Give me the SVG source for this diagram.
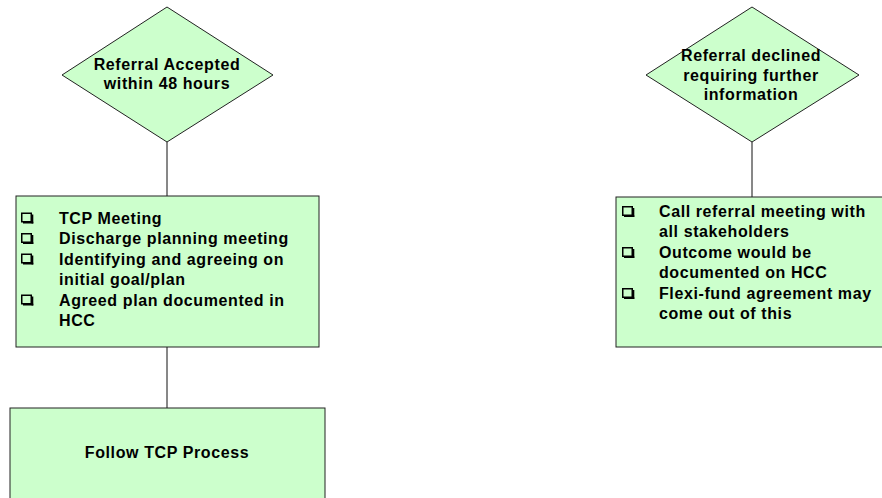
<svg xmlns="http://www.w3.org/2000/svg" width="882" height="498" viewBox="0 0 882 498">
<style>
.shape{fill:#CCFFCC;stroke:#222;stroke-width:1}
.conn{stroke:#111;stroke-width:1;fill:none}
.t{font-family:"Liberation Sans",Arial,sans-serif;font-weight:bold;font-size:16px;letter-spacing:0.6px;fill:#000}
.c{text-anchor:middle}
</style>
<defs>
<g id="bullet">
<rect x="0.75" y="0.75" width="9.5" height="8.5" fill="none" stroke="#000" stroke-width="1.5"/>
<rect x="2" y="9.2" width="10.3" height="1.8" fill="#000"/>
<rect x="10.5" y="2" width="1.8" height="9" fill="#000"/>
</g>
</defs>
<rect width="882" height="498" fill="#fff"/>
<g id="connectors">
<line class="conn" x1="167" y1="142" x2="167" y2="196"/>
<line class="conn" x1="167" y1="347" x2="167" y2="408"/>
<line class="conn" x1="752" y1="142" x2="752" y2="197"/>
</g>
<g id="decision-accepted">
<polygon class="shape" points="167,7 273,75 167,142 62,75"/>
<text class="t c" x="167" y="70">Referral Accepted</text>
<text class="t c" x="167" y="88.5">within 48 hours</text>
</g>
<g id="decision-declined">
<polygon class="shape" points="752,7 859,75 752,142 646,75"/>
<text class="t c" x="751" y="61">Referral declined</text>
<text class="t c" x="751" y="80.5">requiring further</text>
<text class="t c" x="751" y="100">information</text>
</g>
<g id="box-tcp">
<rect class="shape" x="16" y="196" width="303" height="151"/>
<use href="#bullet" x="21" y="212.5"/>
<text class="t" x="59" y="223.5">TCP Meeting</text>
<use href="#bullet" x="21" y="233"/>
<text class="t" x="59" y="244">Discharge planning meeting</text>
<use href="#bullet" x="21" y="253.5"/>
<text class="t" x="59" y="264.5">Identifying and agreeing on</text>
<text class="t" x="59" y="285">initial goal/plan</text>
<use href="#bullet" x="21" y="294.5"/>
<text class="t" x="59" y="305.5">Agreed plan documented in</text>
<text class="t" x="59" y="326">HCC</text>
</g>
<g id="box-referral-meeting">
<rect class="shape" x="616" y="197" width="280" height="150"/>
<use href="#bullet" x="622" y="206"/>
<text class="t" x="659" y="216.5">Call referral meeting with</text>
<text class="t" x="659" y="237">all stakeholders</text>
<use href="#bullet" x="622" y="247"/>
<text class="t" x="659" y="257.5">Outcome would be</text>
<text class="t" x="659" y="278">documented on HCC</text>
<use href="#bullet" x="622" y="288"/>
<text class="t" x="659" y="298.5">Flexi-fund agreement may</text>
<text class="t" x="659" y="319">come out of this</text>
</g>
<g id="box-follow">
<rect class="shape" x="10" y="408" width="315" height="110"/>
<text class="t c" x="167" y="458.3">Follow TCP Process</text>
</g>
</svg>
